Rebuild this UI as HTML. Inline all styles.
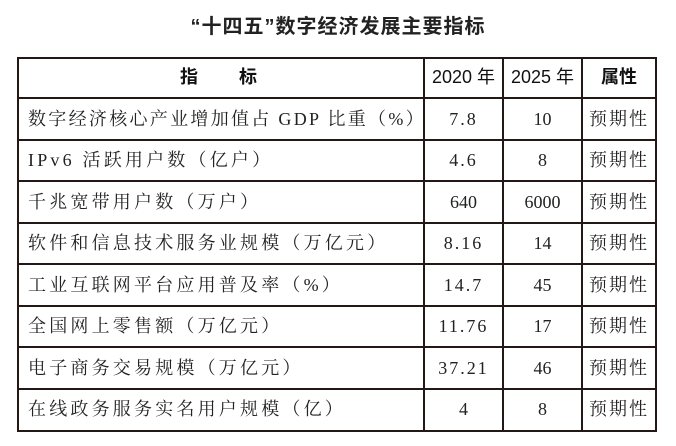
<!DOCTYPE html>
<html><head><meta charset="utf-8"><style>
body{margin:0;width:676px;height:446px;background:#fff;position:relative;overflow:hidden;font-family:"Liberation Serif","Noto Serif CJK SC",serif;color:#222}
.t{position:absolute;left:0;width:676px;top:10px;text-align:center;font-family:"Liberation Sans","Noto Sans CJK SC",sans-serif;font-weight:bold;font-size:20px;letter-spacing:1px}
.h{position:absolute;background:#231815;height:2px;left:17px;width:640px}
.v{position:absolute;background:#231815;width:2px;top:57px;height:375px}
.c{position:absolute;font-size:18px;line-height:20px;white-space:nowrap}
.l{left:28px;letter-spacing:3.2px}
.n{text-align:center}
.hd{font-family:"Liberation Sans","Noto Sans CJK SC",sans-serif;font-weight:bold;color:#111}
</style></head><body>
<div class="t">“十四五”数字经济发展主要指标</div>
<div class="h" style="top:57px"></div><div class="h" style="top:97px"></div><div class="h" style="top:139px"></div><div class="h" style="top:180px"></div><div class="h" style="top:222px"></div><div class="h" style="top:263px"></div><div class="h" style="top:305px"></div><div class="h" style="top:346px"></div><div class="h" style="top:388px"></div><div class="h" style="top:430px"></div>
<div class="v" style="left:17px"></div><div class="v" style="left:423px"></div><div class="v" style="left:502px"></div><div class="v" style="left:581px"></div><div class="v" style="left:655px"></div>
<div class="c hd" style="left:180px;top:67px;letter-spacing:0">指&emsp;&emsp;&nbsp;标</div>
<div class="c hd n" style="left:424px;width:79px;top:67px;font-weight:normal">2020 年</div>
<div class="c hd n" style="left:503px;width:79px;top:67px;font-weight:normal">2025 年</div>
<div class="c hd n" style="left:582px;width:74px;top:67px">属性</div>
<div class="c l" style="top:109px;letter-spacing:2.3px">数字经济核心产业增加值占 GDP 比重（%）</div>
<div class="c l" style="top:150px">IPv6 活跃用户数（亿户）</div>
<div class="c l" style="top:192px">千兆宽带用户数（万户）</div>
<div class="c l" style="top:233px">软件和信息技术服务业规模（万亿元）</div>
<div class="c l" style="top:275px">工业互联网平台应用普及率（%）</div>
<div class="c l" style="top:316px">全国网上零售额（万亿元）</div>
<div class="c l" style="top:358px">电子商务交易规模（万亿元）</div>
<div class="c l" style="top:399px">在线政务服务实名用户规模（亿）</div>
<div class="c n" style="left:424px;width:79px;top:109px;letter-spacing:2px">7.8</div>
<div class="c n" style="left:424px;width:79px;top:150px;letter-spacing:2px">4.6</div>
<div class="c n" style="left:424px;width:79px;top:192px">640</div>
<div class="c n" style="left:424px;width:79px;top:233px;letter-spacing:2px">8.16</div>
<div class="c n" style="left:424px;width:79px;top:275px;letter-spacing:2px">14.7</div>
<div class="c n" style="left:424px;width:79px;top:316px;letter-spacing:2px">11.76</div>
<div class="c n" style="left:424px;width:79px;top:358px;letter-spacing:2px">37.21</div>
<div class="c n" style="left:424px;width:79px;top:399px">4</div>
<div class="c n" style="left:503px;width:79px;top:109px">10</div>
<div class="c n" style="left:503px;width:79px;top:150px">8</div>
<div class="c n" style="left:503px;width:79px;top:192px">6000</div>
<div class="c n" style="left:503px;width:79px;top:233px">14</div>
<div class="c n" style="left:503px;width:79px;top:275px">45</div>
<div class="c n" style="left:503px;width:79px;top:316px">17</div>
<div class="c n" style="left:503px;width:79px;top:358px">46</div>
<div class="c n" style="left:503px;width:79px;top:399px">8</div>
<div class="c n" style="left:582px;width:74px;top:109px;letter-spacing:2px">预期性</div>
<div class="c n" style="left:582px;width:74px;top:150px;letter-spacing:2px">预期性</div>
<div class="c n" style="left:582px;width:74px;top:192px;letter-spacing:2px">预期性</div>
<div class="c n" style="left:582px;width:74px;top:233px;letter-spacing:2px">预期性</div>
<div class="c n" style="left:582px;width:74px;top:275px;letter-spacing:2px">预期性</div>
<div class="c n" style="left:582px;width:74px;top:316px;letter-spacing:2px">预期性</div>
<div class="c n" style="left:582px;width:74px;top:358px;letter-spacing:2px">预期性</div>
<div class="c n" style="left:582px;width:74px;top:399px;letter-spacing:2px">预期性</div>
</body></html>
